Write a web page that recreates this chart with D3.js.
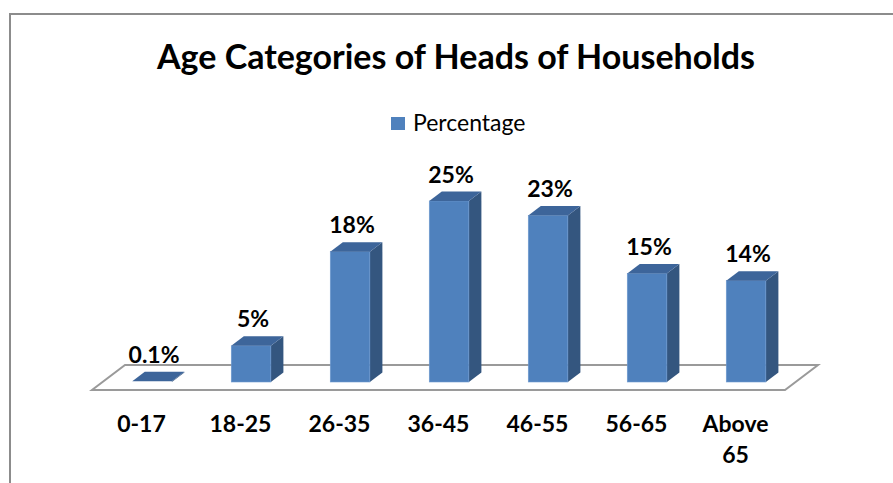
<!DOCTYPE html>
<html>
<head>
<meta charset="utf-8">
<script src="https://cdn.jsdelivr.net/npm/d3@7"></script>
<style>
  body { margin: 0; background: #fff; }
  text { font-family: Lato, "Open Sans", sans-serif; fill: #000; }
</style>
</head>
<body>
<div id="chart"></div>
<script>
/* Data */
const categories = ["0-17", "18-25", "26-35", "36-45", "46-55", "56-65", "Above 65"];
const percentages = [0.1, 5, 18, 25, 23, 15, 14];
const valueLabels = ["0.1%", "5%", "18%", "25%", "23%", "15%", "14%"];
const seriesName = "Percentage";
const chartTitle = "Age Categories of Heads of Households";

/* Layout */
const width = 893, height = 483;
const floorY = 390;
const depth = { dx: 33, dy: -25 };     // floor depth vector
const barFront = 0.32, barBack = 0.70; // bar position within floor depth

const svg = d3.select("#chart").append("svg")
    .attr("width", width)
    .attr("height", height);

// chart border (runs off right / bottom edge)
svg.append("path")
    .attr("d", "M10,490 L10,14 L900,14")
    .attr("fill", "none")
    .attr("stroke", "#8c8c8c")
    .attr("stroke-width", 2);

const x = d3.scaleBand()
    .domain(categories)
    .range([92, 785])
    .paddingInner(0.6)
    .paddingOuter(0.3);

const y = d3.scaleLinear()
    .domain([0, 25])
    .range([0, 181]);

// floor
const fl = 92, fr = 785;
svg.append("path")
    .attr("d", `M${fl},${floorY} L${fr},${floorY} L${fr + depth.dx},${floorY + depth.dy} L${fl + depth.dx},${floorY + depth.dy} Z`)
    .attr("fill", "#fff")
    .attr("stroke", "#9a9a9a")
    .attr("stroke-width", 2);

/* Bars */
const fx = depth.dx * barFront, fy = depth.dy * barFront;
const bx = depth.dx * (barBack - barFront), by = depth.dy * (barBack - barFront);
const bw = x.bandwidth();

const bars = svg.selectAll("g.bar")
    .data(categories.map((c, i) => ({ cat: c, val: percentages[i], label: valueLabels[i] })))
    .enter().append("g")
    .attr("class", "bar");

bars.each(function (d) {
    const g = d3.select(this);
    const x0 = x(d.cat) + fx, x1 = x0 + bw;
    const yb = floorY + fy, yt = yb - y(d.val);
    // side face
    g.append("path")
        .attr("d", `M${x1},${yb} L${x1 + bx},${yb + by} L${x1 + bx},${yt + by} L${x1},${yt} Z`)
        .attr("fill", "#34567f");
    // front face
    if (y(d.val) > 2) {
        g.append("rect")
            .attr("x", x0).attr("y", yt)
            .attr("width", bw).attr("height", yb - yt)
            .attr("fill", "#4f81bd")
            .attr("stroke", "#6f9ad0")
            .attr("stroke-width", 0.6);
    }
    // top face
    g.append("path")
        .attr("d", `M${x0},${yt} L${x0 + bx},${yt + by} L${x1 + bx},${yt + by} L${x1},${yt} Z`)
        .attr("fill", "#3d659a");
    // value label
    g.append("text")
        .attr("x", x0 + bw / 2 + 2)
        .attr("y", yt + by - 9)
        .attr("text-anchor", "middle")
        .attr("font-size", 23)
        .attr("font-weight", "bold")
        .text(d.label);
});

/* Category labels */
const catText = svg.selectAll("text.cat")
    .data(categories)
    .enter().append("text")
    .attr("class", "cat")
    .attr("text-anchor", "middle")
    .attr("font-size", 23)
    .attr("font-weight", "bold")
    .attr("y", 432);
catText.each(function (d) {
    const words = d === "Above 65" ? ["Above", "65"] : [d];
    const t = d3.select(this);
    words.forEach((w, i) => {
        t.append("tspan")
            .attr("x", x(d) + bw / 2)
            .attr("dy", i === 0 ? 0 : 31)
            .text(w);
    });
});

/* Title */
svg.append("text")
    .attr("x", 456)
    .attr("y", 69)
    .attr("text-anchor", "middle")
    .attr("font-size", 34)
    .attr("font-weight", "bold")
    .text(chartTitle);

/* Legend */
svg.append("rect")
    .attr("x", 391).attr("y", 117)
    .attr("width", 14).attr("height", 13)
    .attr("fill", "#4f81bd");
svg.append("text")
    .attr("x", 413).attr("y", 131)
    .attr("font-size", 23)
    .text(seriesName);
</script>
</body>
</html>
